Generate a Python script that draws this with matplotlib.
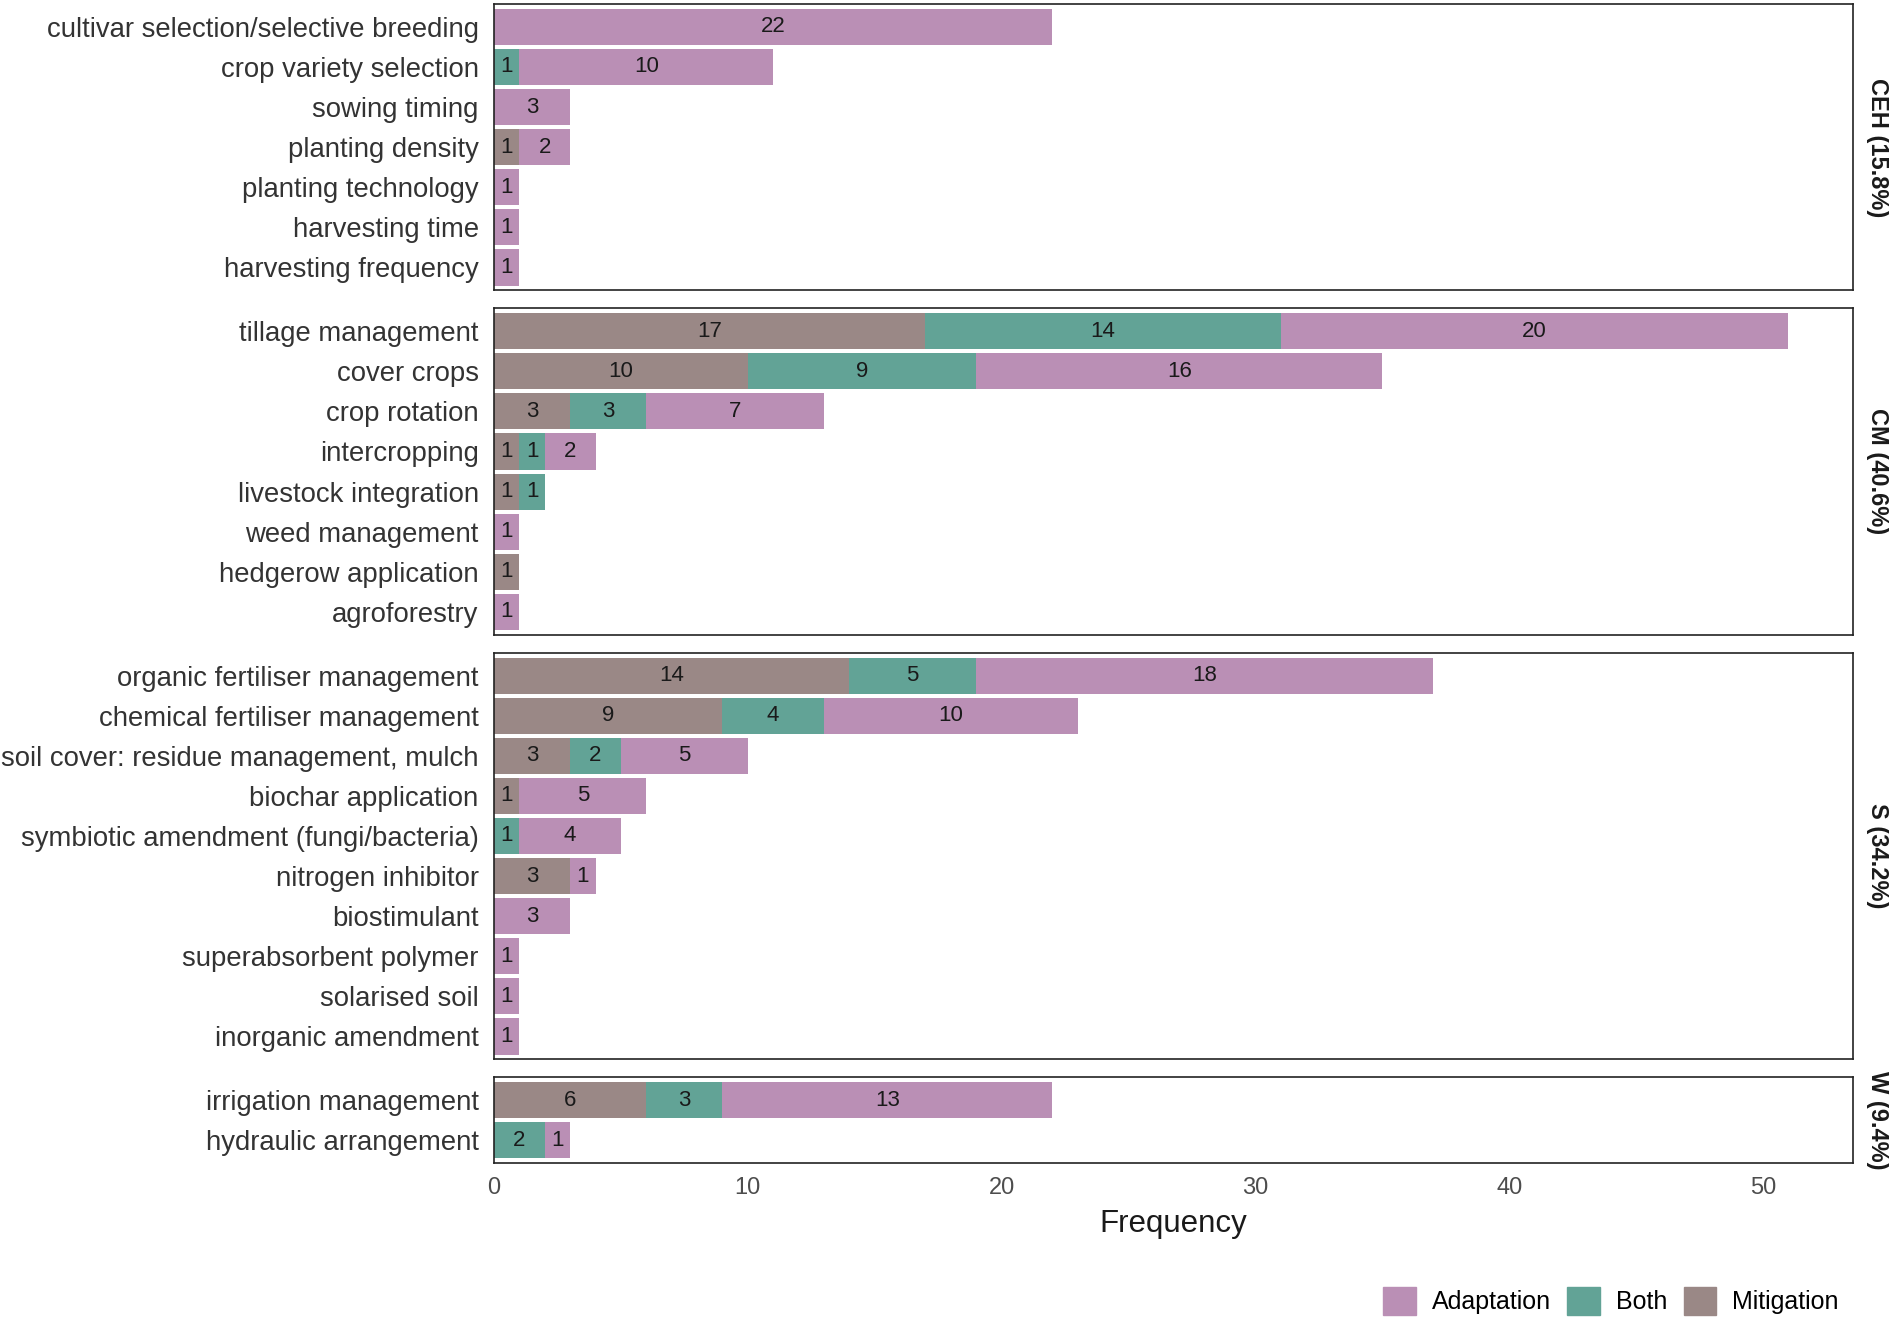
import matplotlib
matplotlib.use("Agg")
import matplotlib.pyplot as plt
from matplotlib.patches import Patch

plt.rcParams['font.family'] = ['Liberation Sans', 'DejaVu Sans']

# data
ceh_labels = ["cultivar selection/selective breeding", "crop variety selection", "sowing timing",
              "planting density", "planting technology", "harvesting time", "harvesting frequency"]
ceh_mit = [0, 0, 0, 1, 0, 0, 0]
ceh_both = [0, 1, 0, 0, 0, 0, 0]
ceh_adapt = [22, 10, 3, 2, 1, 1, 1]

cm_labels = ["tillage management", "cover crops", "crop rotation", "intercropping",
             "livestock integration", "weed management", "hedgerow application", "agroforestry"]
cm_mit = [17, 10, 3, 1, 1, 0, 1, 0]
cm_both = [14, 9, 3, 1, 1, 0, 0, 0]
cm_adapt = [20, 16, 7, 2, 0, 1, 0, 1]

s_labels = ["organic fertiliser management", "chemical fertiliser management",
            "soil cover: residue management, mulch", "biochar application",
            "symbiotic amendment (fungi/bacteria)", "nitrogen inhibitor", "biostimulant",
            "superabsorbent polymer", "solarised soil", "inorganic amendment"]
s_mit = [14, 9, 3, 1, 0, 3, 0, 0, 0, 0]
s_both = [5, 4, 2, 0, 1, 0, 0, 0, 0, 0]
s_adapt = [18, 10, 5, 5, 4, 1, 3, 1, 1, 1]

w_labels = ["irrigation management", "hydraulic arrangement"]
w_mit = [6, 0]
w_both = [3, 2]
w_adapt = [13, 1]

group_names = ["CEH (15.8%)", "CM (40.6%)", "S (34.2%)", "W (9.4%)"]

c_adapt = "#BA8FB5"
c_both = "#62A396"
c_mit = "#9A8886"

groups = [
    (ceh_labels, ceh_mit, ceh_both, ceh_adapt),
    (cm_labels, cm_mit, cm_both, cm_adapt),
    (s_labels, s_mit, s_both, s_adapt),
    (w_labels, w_mit, w_both, w_adapt),
]

W, H = 1890, 1321
fig = plt.figure(figsize=(W / 100, H / 100), dpi=100)

left_px, right_px = 494, 1853
row_px = 40.1
pad = 0.57
gap_px = 18
top = 4
xmax = 53.55

axes = []
for gi, (labels, mit, both, adapt) in enumerate(groups):
    n = len(labels)
    h = (n - 1 + 2 * pad) * row_px
    ax = fig.add_axes([left_px / W, 1 - (top + h) / H, (right_px - left_px) / W, h / H])
    top += h + gap_px
    axes.append(ax)
    ys = list(range(n))
    lefts = [0] * n
    for vals, col in [(mit, c_mit), (both, c_both), (adapt, c_adapt)]:
        ax.barh(ys, vals, left=lefts, height=0.9, color=col, edgecolor='none')
        for y, v, l in zip(ys, vals, lefts):
            if v > 0:
                ax.text(l + v / 2, y, str(v), ha='center', va='center',
                        fontsize=16, color='#1a1a1a')
        lefts = [a + b for a, b in zip(lefts, vals)]
    ax.set_ylim(n - 1 + pad, -pad)
    ax.set_xlim(0, xmax)
    ax.set_yticks(ys)
    ax.set_yticklabels(labels, fontsize=19.8, color='#333333')
    ax.tick_params(axis='both', length=0, pad=11)
    ax.set_xticks([0, 10, 20, 30, 40, 50])
    if gi < 3:
        ax.tick_params(axis='x', labelbottom=False)
    else:
        ax.tick_params(axis='x', labelsize=17, labelcolor='#4D4D4D', pad=10)
        ax.set_xlabel("Frequency", fontsize=22.5, color='#1a1a1a', labelpad=7)
    for sp in ax.spines.values():
        sp.set_linewidth(1.2)
        sp.set_color('#222222')
    ax.text(1.0 + 24 / (right_px - left_px), 0.5, group_names[gi], transform=ax.transAxes,
            rotation=-90, ha='center', va='center', fontsize=17, fontweight='bold',
            color='#1a1a1a')

handles = [Patch(color=c_adapt, label="Adaptation"),
           Patch(color=c_both, label="Both"),
           Patch(color=c_mit, label="Mitigation")]
fig.legend(handles=handles, loc='center right', bbox_to_anchor=(1849 / W, 1 - 1301 / H),
           ncol=3, frameon=False, fontsize=18, handlelength=1.3, handleheight=1.3,
           handletextpad=0.65, columnspacing=0.65, borderaxespad=0)

fig.savefig("out.png", dpi=100)
